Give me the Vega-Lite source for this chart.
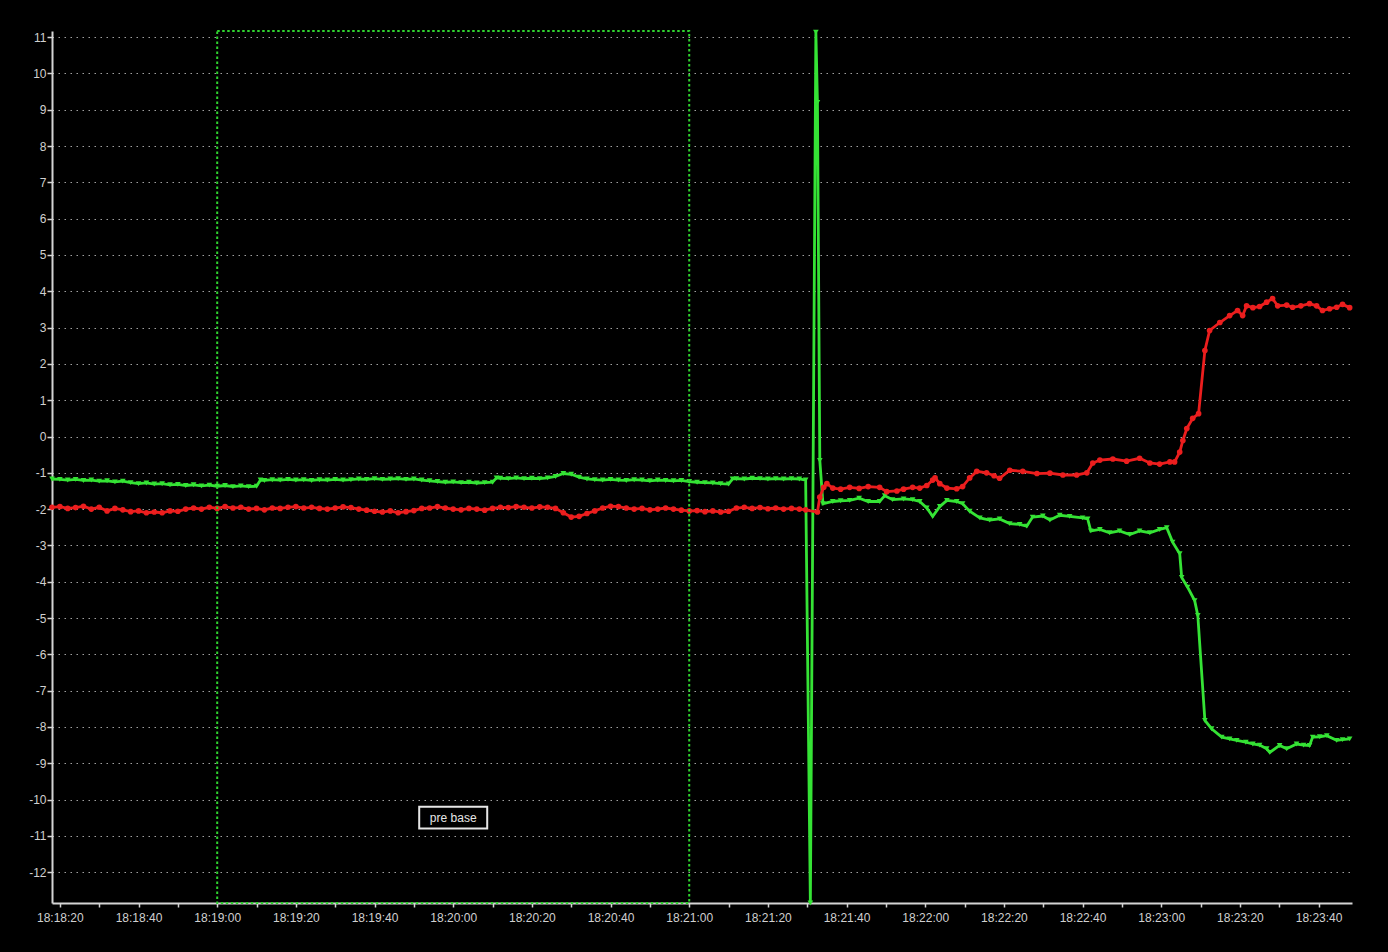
{
  "$schema": "https://vega.github.io/schema/vega-lite/v6.json",
  "width": 1300,
  "height": 872,
  "autosize": {"type": "none"},
  "padding": {"left": 52, "top": 31, "right": 36, "bottom": 49},
  "background": "black",
  "config": {
    "view": {"stroke": null},
    "axis": {
      "domainColor": "#d4d4d4",
      "domainWidth": 2,
      "tickColor": "#d4d4d4",
      "tickWidth": 1.5,
      "labelColor": "#d0d0d0",
      "labelFont": "Liberation Sans",
      "labelFontSize": 12,
      "gridColor": "#a0a0a0",
      "gridDash": [1.5, 4.5],
      "gridWidth": 1.2
    }
  },
  "resolve": {"axis": {"x": "independent", "y": "independent"}},
  "layer": [
    {
      "data": {"values": [
        {"t":"2020-01-01T18:18:18","ch1":-1.17,"ch2":-1.95},
        {"t":"2020-01-01T18:18:20","ch1":-1.18,"ch2":-1.93},
        {"t":"2020-01-01T18:18:22","ch1":-1.2,"ch2":-1.98},
        {"t":"2020-01-01T18:18:24","ch1":-1.18,"ch2":-1.96},
        {"t":"2020-01-01T18:18:26","ch1":-1.21,"ch2":-1.92},
        {"t":"2020-01-01T18:18:28","ch1":-1.2,"ch2":-2.0},
        {"t":"2020-01-01T18:18:30","ch1":-1.23,"ch2":-1.95},
        {"t":"2020-01-01T18:18:32","ch1":-1.22,"ch2":-2.05},
        {"t":"2020-01-01T18:18:34","ch1":-1.25,"ch2":-1.98},
        {"t":"2020-01-01T18:18:36","ch1":-1.23,"ch2":-2.02},
        {"t":"2020-01-01T18:18:38","ch1":-1.27,"ch2":-2.07},
        {"t":"2020-01-01T18:18:40","ch1":-1.3,"ch2":-2.05},
        {"t":"2020-01-01T18:18:42","ch1":-1.28,"ch2":-2.1},
        {"t":"2020-01-01T18:18:44","ch1":-1.31,"ch2":-2.08},
        {"t":"2020-01-01T18:18:46","ch1":-1.3,"ch2":-2.1},
        {"t":"2020-01-01T18:18:48","ch1":-1.33,"ch2":-2.05},
        {"t":"2020-01-01T18:18:50","ch1":-1.32,"ch2":-2.06},
        {"t":"2020-01-01T18:18:52","ch1":-1.35,"ch2":-2.0},
        {"t":"2020-01-01T18:18:54","ch1":-1.33,"ch2":-1.97},
        {"t":"2020-01-01T18:18:56","ch1":-1.36,"ch2":-2.0},
        {"t":"2020-01-01T18:18:58","ch1":-1.34,"ch2":-1.95},
        {"t":"2020-01-01T18:19:00","ch1":-1.37,"ch2":-1.98},
        {"t":"2020-01-01T18:19:02","ch1":-1.35,"ch2":-1.93},
        {"t":"2020-01-01T18:19:04","ch1":-1.38,"ch2":-1.97},
        {"t":"2020-01-01T18:19:06","ch1":-1.36,"ch2":-1.95},
        {"t":"2020-01-01T18:19:08","ch1":-1.38,"ch2":-2.0},
        {"t":"2020-01-01T18:19:10","ch1":-1.37,"ch2":-1.98},
        {"t":"2020-01-01T18:19:11","ch1":-1.2},
        {"t":"2020-01-01T18:19:12","ch1":-1.21,"ch2":-2.02},
        {"t":"2020-01-01T18:19:14","ch1":-1.19,"ch2":-1.97},
        {"t":"2020-01-01T18:19:16","ch1":-1.2,"ch2":-1.98},
        {"t":"2020-01-01T18:19:18","ch1":-1.18,"ch2":-1.95},
        {"t":"2020-01-01T18:19:20","ch1":-1.2,"ch2":-1.93},
        {"t":"2020-01-01T18:19:22","ch1":-1.19,"ch2":-1.97},
        {"t":"2020-01-01T18:19:24","ch1":-1.21,"ch2":-1.95},
        {"t":"2020-01-01T18:19:26","ch1":-1.19,"ch2":-1.98},
        {"t":"2020-01-01T18:19:28","ch1":-1.2,"ch2":-2.0},
        {"t":"2020-01-01T18:19:30","ch1":-1.18,"ch2":-1.97},
        {"t":"2020-01-01T18:19:32","ch1":-1.2,"ch2":-1.94},
        {"t":"2020-01-01T18:19:34","ch1":-1.19,"ch2":-1.96},
        {"t":"2020-01-01T18:19:36","ch1":-1.17,"ch2":-2.0},
        {"t":"2020-01-01T18:19:38","ch1":-1.18,"ch2":-2.03},
        {"t":"2020-01-01T18:19:40","ch1":-1.16,"ch2":-2.06},
        {"t":"2020-01-01T18:19:42","ch1":-1.18,"ch2":-2.08},
        {"t":"2020-01-01T18:19:44","ch1":-1.17,"ch2":-2.05},
        {"t":"2020-01-01T18:19:46","ch1":-1.16,"ch2":-2.1},
        {"t":"2020-01-01T18:19:48","ch1":-1.18,"ch2":-2.07},
        {"t":"2020-01-01T18:19:50","ch1":-1.17,"ch2":-2.04},
        {"t":"2020-01-01T18:19:52","ch1":-1.2,"ch2":-1.98},
        {"t":"2020-01-01T18:19:54","ch1":-1.22,"ch2":-1.97},
        {"t":"2020-01-01T18:19:56","ch1":-1.24,"ch2":-1.93},
        {"t":"2020-01-01T18:19:58","ch1":-1.26,"ch2":-1.97},
        {"t":"2020-01-01T18:20:00","ch1":-1.25,"ch2":-2.0},
        {"t":"2020-01-01T18:20:02","ch1":-1.27,"ch2":-2.02},
        {"t":"2020-01-01T18:20:04","ch1":-1.26,"ch2":-1.98},
        {"t":"2020-01-01T18:20:06","ch1":-1.28,"ch2":-2.0},
        {"t":"2020-01-01T18:20:08","ch1":-1.27,"ch2":-2.03},
        {"t":"2020-01-01T18:20:10","ch1":-1.26,"ch2":-1.98},
        {"t":"2020-01-01T18:20:11","ch1":-1.14},
        {"t":"2020-01-01T18:20:12","ch1":-1.15,"ch2":-1.95},
        {"t":"2020-01-01T18:20:14","ch1":-1.16,"ch2":-1.96},
        {"t":"2020-01-01T18:20:16","ch1":-1.14,"ch2":-1.93},
        {"t":"2020-01-01T18:20:18","ch1":-1.16,"ch2":-1.95},
        {"t":"2020-01-01T18:20:20","ch1":-1.15,"ch2":-1.97},
        {"t":"2020-01-01T18:20:22","ch1":-1.16,"ch2":-1.94},
        {"t":"2020-01-01T18:20:24","ch1":-1.14,"ch2":-1.95},
        {"t":"2020-01-01T18:20:26","ch1":-1.1,"ch2":-1.98},
        {"t":"2020-01-01T18:20:28","ch1":-1.02,"ch2":-2.1},
        {"t":"2020-01-01T18:20:30","ch1":-1.04,"ch2":-2.22},
        {"t":"2020-01-01T18:20:32","ch1":-1.12,"ch2":-2.2},
        {"t":"2020-01-01T18:20:34","ch1":-1.17,"ch2":-2.12},
        {"t":"2020-01-01T18:20:36","ch1":-1.19,"ch2":-2.05},
        {"t":"2020-01-01T18:20:38","ch1":-1.2,"ch2":-1.97},
        {"t":"2020-01-01T18:20:40","ch1":-1.18,"ch2":-1.92},
        {"t":"2020-01-01T18:20:42","ch1":-1.2,"ch2":-1.93},
        {"t":"2020-01-01T18:20:44","ch1":-1.21,"ch2":-1.97},
        {"t":"2020-01-01T18:20:46","ch1":-1.19,"ch2":-2.0},
        {"t":"2020-01-01T18:20:48","ch1":-1.2,"ch2":-1.98},
        {"t":"2020-01-01T18:20:50","ch1":-1.22,"ch2":-2.02},
        {"t":"2020-01-01T18:20:52","ch1":-1.2,"ch2":-2.0},
        {"t":"2020-01-01T18:20:54","ch1":-1.21,"ch2":-1.97},
        {"t":"2020-01-01T18:20:56","ch1":-1.22,"ch2":-2.0},
        {"t":"2020-01-01T18:20:58","ch1":-1.21,"ch2":-2.03},
        {"t":"2020-01-01T18:21:00","ch1":-1.24,"ch2":-2.05},
        {"t":"2020-01-01T18:21:02","ch1":-1.26,"ch2":-2.04},
        {"t":"2020-01-01T18:21:04","ch1":-1.27,"ch2":-2.07},
        {"t":"2020-01-01T18:21:06","ch1":-1.28,"ch2":-2.05},
        {"t":"2020-01-01T18:21:08","ch1":-1.3,"ch2":-2.08},
        {"t":"2020-01-01T18:21:10","ch1":-1.31,"ch2":-2.06},
        {"t":"2020-01-01T18:21:11","ch1":-1.17},
        {"t":"2020-01-01T18:21:12","ch1":-1.16,"ch2":-1.97},
        {"t":"2020-01-01T18:21:14","ch1":-1.17,"ch2":-1.95},
        {"t":"2020-01-01T18:21:16","ch1":-1.15,"ch2":-1.98},
        {"t":"2020-01-01T18:21:18","ch1":-1.16,"ch2":-1.96},
        {"t":"2020-01-01T18:21:20","ch1":-1.17,"ch2":-1.99},
        {"t":"2020-01-01T18:21:22","ch1":-1.16,"ch2":-1.97},
        {"t":"2020-01-01T18:21:24","ch1":-1.17,"ch2":-2.0},
        {"t":"2020-01-01T18:21:26","ch1":-1.16,"ch2":-1.98},
        {"t":"2020-01-01T18:21:28","ch1":-1.17,"ch2":-2.0},
        {"t":"2020-01-01T18:21:29.6","ch1":-1.2,"ch2":-2.02},
        {"t":"2020-01-01T18:21:30.8","ch1":-12.85},
        {"t":"2020-01-01T18:21:32.2","ch1":11.14},
        {"t":"2020-01-01T18:21:32.6","ch1":9.2,"ch2":-2.08},
        {"t":"2020-01-01T18:21:33.2","ch1":-0.66,"ch2":-1.67},
        {"t":"2020-01-01T18:21:34","ch1":-1.85},
        {"t":"2020-01-01T18:21:34.2","ch2":-1.4},
        {"t":"2020-01-01T18:21:35","ch2":-1.3},
        {"t":"2020-01-01T18:21:36.5","ch1":-1.79,"ch2":-1.42},
        {"t":"2020-01-01T18:21:38.5","ch1":-1.77,"ch2":-1.45},
        {"t":"2020-01-01T18:21:40.8","ch1":-1.76,"ch2":-1.4},
        {"t":"2020-01-01T18:21:43.2","ch1":-1.7,"ch2":-1.43},
        {"t":"2020-01-01T18:21:45.5","ch1":-1.79,"ch2":-1.38},
        {"t":"2020-01-01T18:21:48.4","ch1":-1.79,"ch2":-1.4},
        {"t":"2020-01-01T18:21:49.7","ch1":-1.63},
        {"t":"2020-01-01T18:21:50.2","ch2":-1.52},
        {"t":"2020-01-01T18:21:51.7","ch1":-1.74},
        {"t":"2020-01-01T18:21:52.8","ch2":-1.5},
        {"t":"2020-01-01T18:21:54.5","ch1":-1.72,"ch2":-1.45},
        {"t":"2020-01-01T18:21:56.8","ch1":-1.74,"ch2":-1.4},
        {"t":"2020-01-01T18:21:58.6","ch1":-1.79,"ch2":-1.42},
        {"t":"2020-01-01T18:22:00.4","ch1":-1.97,"ch2":-1.35},
        {"t":"2020-01-01T18:22:01.9","ch1":-2.2,"ch2":-1.2},
        {"t":"2020-01-01T18:22:02.5","ch2":-1.14},
        {"t":"2020-01-01T18:22:03.7","ch1":-1.93,"ch2":-1.3},
        {"t":"2020-01-01T18:22:05.5","ch1":-1.76,"ch2":-1.42},
        {"t":"2020-01-01T18:22:08","ch1":-1.79,"ch2":-1.44},
        {"t":"2020-01-01T18:22:09.5","ch1":-1.85,"ch2":-1.38},
        {"t":"2020-01-01T18:22:11.3","ch1":-2.06,"ch2":-1.14},
        {"t":"2020-01-01T18:22:13.1","ch2":-0.96},
        {"t":"2020-01-01T18:22:13.9","ch1":-2.24},
        {"t":"2020-01-01T18:22:15.6","ch2":-1.0},
        {"t":"2020-01-01T18:22:16.4","ch1":-2.3},
        {"t":"2020-01-01T18:22:17.5","ch2":-1.08},
        {"t":"2020-01-01T18:22:18.9","ch1":-2.27,"ch2":-1.15},
        {"t":"2020-01-01T18:22:21.5","ch1":-2.4,"ch2":-0.93},
        {"t":"2020-01-01T18:22:24","ch1":-2.42},
        {"t":"2020-01-01T18:22:24.8","ch2":-0.96},
        {"t":"2020-01-01T18:22:25.8","ch1":-2.47},
        {"t":"2020-01-01T18:22:27.3","ch1":-2.22},
        {"t":"2020-01-01T18:22:28.4","ch2":-1.02},
        {"t":"2020-01-01T18:22:29.9","ch1":-2.19},
        {"t":"2020-01-01T18:22:31.7","ch1":-2.3,"ch2":-1.01},
        {"t":"2020-01-01T18:22:34.2","ch1":-2.17},
        {"t":"2020-01-01T18:22:35","ch2":-1.06},
        {"t":"2020-01-01T18:22:36.7","ch1":-2.2},
        {"t":"2020-01-01T18:22:38.5","ch2":-1.06},
        {"t":"2020-01-01T18:22:40","ch1":-2.24},
        {"t":"2020-01-01T18:22:41.1","ch2":-1.0},
        {"t":"2020-01-01T18:22:41.3","ch1":-2.27},
        {"t":"2020-01-01T18:22:42.1","ch1":-2.6},
        {"t":"2020-01-01T18:22:42.6","ch2":-0.73},
        {"t":"2020-01-01T18:22:44.4","ch1":-2.56,"ch2":-0.65},
        {"t":"2020-01-01T18:22:46.9","ch1":-2.65},
        {"t":"2020-01-01T18:22:47.7","ch2":-0.62},
        {"t":"2020-01-01T18:22:49.4","ch1":-2.6},
        {"t":"2020-01-01T18:22:51.2","ch2":-0.68},
        {"t":"2020-01-01T18:22:52","ch1":-2.7},
        {"t":"2020-01-01T18:22:54.5","ch1":-2.6,"ch2":-0.6},
        {"t":"2020-01-01T18:22:57.1","ch1":-2.65,"ch2":-0.73},
        {"t":"2020-01-01T18:22:59.6","ch1":-2.56,"ch2":-0.76},
        {"t":"2020-01-01T18:23:01.4","ch1":-2.51},
        {"t":"2020-01-01T18:23:02.2","ch2":-0.7},
        {"t":"2020-01-01T18:23:02.9","ch1":-2.91},
        {"t":"2020-01-01T18:23:03.4","ch2":-0.7},
        {"t":"2020-01-01T18:23:04.7","ch1":-3.23,"ch2":-0.43},
        {"t":"2020-01-01T18:23:05.2","ch1":-3.88},
        {"t":"2020-01-01T18:23:05.5","ch2":-0.11},
        {"t":"2020-01-01T18:23:06.5","ch2":0.22},
        {"t":"2020-01-01T18:23:06.7","ch1":-4.15},
        {"t":"2020-01-01T18:23:08","ch2":0.5},
        {"t":"2020-01-01T18:23:08.5","ch1":-4.52},
        {"t":"2020-01-01T18:23:09.3","ch1":-4.93},
        {"t":"2020-01-01T18:23:09.5","ch2":0.63},
        {"t":"2020-01-01T18:23:11.1","ch1":-7.82,"ch2":2.37},
        {"t":"2020-01-01T18:23:12.3","ch2":2.92},
        {"t":"2020-01-01T18:23:12.8","ch1":-8.05},
        {"t":"2020-01-01T18:23:14.9","ch2":3.14},
        {"t":"2020-01-01T18:23:15.4","ch1":-8.28},
        {"t":"2020-01-01T18:23:17.4","ch1":-8.33,"ch2":3.33},
        {"t":"2020-01-01T18:23:19.2","ch1":-8.37},
        {"t":"2020-01-01T18:23:19.4","ch2":3.47},
        {"t":"2020-01-01T18:23:20.7","ch2":3.33},
        {"t":"2020-01-01T18:23:21.5","ch1":-8.42},
        {"t":"2020-01-01T18:23:21.7","ch2":3.6},
        {"t":"2020-01-01T18:23:23.3","ch1":-8.47,"ch2":3.55},
        {"t":"2020-01-01T18:23:25","ch1":-8.5,"ch2":3.58},
        {"t":"2020-01-01T18:23:26.8","ch1":-8.6,"ch2":3.7},
        {"t":"2020-01-01T18:23:27.6","ch1":-8.7},
        {"t":"2020-01-01T18:23:28.3","ch2":3.8},
        {"t":"2020-01-01T18:23:29.6","ch2":3.6},
        {"t":"2020-01-01T18:23:30.1","ch1":-8.51},
        {"t":"2020-01-01T18:23:31.9","ch1":-8.6,"ch2":3.62},
        {"t":"2020-01-01T18:23:33.4","ch2":3.56},
        {"t":"2020-01-01T18:23:34.4","ch1":-8.47},
        {"t":"2020-01-01T18:23:35.5","ch2":3.6},
        {"t":"2020-01-01T18:23:36.2","ch1":-8.5},
        {"t":"2020-01-01T18:23:37.7","ch1":-8.51,"ch2":3.66},
        {"t":"2020-01-01T18:23:38.5","ch1":-8.28},
        {"t":"2020-01-01T18:23:39.5","ch2":3.6},
        {"t":"2020-01-01T18:23:40.3","ch1":-8.27},
        {"t":"2020-01-01T18:23:41","ch2":3.47},
        {"t":"2020-01-01T18:23:42.1","ch1":-8.24},
        {"t":"2020-01-01T18:23:42.8","ch2":3.52},
        {"t":"2020-01-01T18:23:44.6","ch1":-8.37,"ch2":3.56},
        {"t":"2020-01-01T18:23:46.1","ch1":-8.35,"ch2":3.64},
        {"t":"2020-01-01T18:23:47.9","ch1":-8.33,"ch2":3.55}
      ]},
      "transform": [
        {"fold": ["ch1", "ch2"], "as": ["series", "value"]},
        {"filter": "isValid(datum.value)"}
      ],
      "resolve": {"axis": {"x": "independent", "y": "independent"}},
      "layer": [
        {
          "mark": {"type": "line", "strokeWidth": 2.8},
          "encoding": {
            "x": {
              "field": "t", "type": "temporal", "title": null,
              "scale": {"domain": [{"year": 2020, "month": 1, "date": 1, "hours": 18, "minutes": 18, "seconds": 18}, {"year": 2020, "month": 1, "date": 1, "hours": 18, "minutes": 23, "seconds": 48, "milliseconds": 500}]},
              "axis": {
                "grid": false,
                "values": [
                  {"year":2020,"month":1,"date":1,"hours":18,"minutes":18,"seconds":20},
                  {"year":2020,"month":1,"date":1,"hours":18,"minutes":18,"seconds":30},
                  {"year":2020,"month":1,"date":1,"hours":18,"minutes":18,"seconds":40},
                  {"year":2020,"month":1,"date":1,"hours":18,"minutes":18,"seconds":50},
                  {"year":2020,"month":1,"date":1,"hours":18,"minutes":19,"seconds":0},
                  {"year":2020,"month":1,"date":1,"hours":18,"minutes":19,"seconds":10},
                  {"year":2020,"month":1,"date":1,"hours":18,"minutes":19,"seconds":20},
                  {"year":2020,"month":1,"date":1,"hours":18,"minutes":19,"seconds":30},
                  {"year":2020,"month":1,"date":1,"hours":18,"minutes":19,"seconds":40},
                  {"year":2020,"month":1,"date":1,"hours":18,"minutes":19,"seconds":50},
                  {"year":2020,"month":1,"date":1,"hours":18,"minutes":20,"seconds":0},
                  {"year":2020,"month":1,"date":1,"hours":18,"minutes":20,"seconds":10},
                  {"year":2020,"month":1,"date":1,"hours":18,"minutes":20,"seconds":20},
                  {"year":2020,"month":1,"date":1,"hours":18,"minutes":20,"seconds":30},
                  {"year":2020,"month":1,"date":1,"hours":18,"minutes":20,"seconds":40},
                  {"year":2020,"month":1,"date":1,"hours":18,"minutes":20,"seconds":50},
                  {"year":2020,"month":1,"date":1,"hours":18,"minutes":21,"seconds":0},
                  {"year":2020,"month":1,"date":1,"hours":18,"minutes":21,"seconds":10},
                  {"year":2020,"month":1,"date":1,"hours":18,"minutes":21,"seconds":20},
                  {"year":2020,"month":1,"date":1,"hours":18,"minutes":21,"seconds":30},
                  {"year":2020,"month":1,"date":1,"hours":18,"minutes":21,"seconds":40},
                  {"year":2020,"month":1,"date":1,"hours":18,"minutes":21,"seconds":50},
                  {"year":2020,"month":1,"date":1,"hours":18,"minutes":22,"seconds":0},
                  {"year":2020,"month":1,"date":1,"hours":18,"minutes":22,"seconds":10},
                  {"year":2020,"month":1,"date":1,"hours":18,"minutes":22,"seconds":20},
                  {"year":2020,"month":1,"date":1,"hours":18,"minutes":22,"seconds":30},
                  {"year":2020,"month":1,"date":1,"hours":18,"minutes":22,"seconds":40},
                  {"year":2020,"month":1,"date":1,"hours":18,"minutes":22,"seconds":50},
                  {"year":2020,"month":1,"date":1,"hours":18,"minutes":23,"seconds":0},
                  {"year":2020,"month":1,"date":1,"hours":18,"minutes":23,"seconds":10},
                  {"year":2020,"month":1,"date":1,"hours":18,"minutes":23,"seconds":20},
                  {"year":2020,"month":1,"date":1,"hours":18,"minutes":23,"seconds":30},
                  {"year":2020,"month":1,"date":1,"hours":18,"minutes":23,"seconds":40}
                ],
                "labelExpr": "seconds(datum.value) % 20 == 0 ? timeFormat(datum.value, '%H:%M:%S') : ''",
                "labelOverlap": false,
                "tickSize": 4,
                "labelPadding": 5
              }
            },
            "y": {
              "field": "value", "type": "quantitative", "title": null,
              "scale": {"domain": [-12.85, 11.17], "nice": false, "zero": false},
              "axis": {
                "grid": true,
                "values": [-12,-11,-10,-9,-8,-7,-6,-5,-4,-3,-2,-1,0,1,2,3,4,5,6,7,8,9,10,11],
                "labelExpr": "'' + datum.value",
                "labelOverlap": false,
                "tickSize": 5,
                "labelPadding": 1
              }
            },
            "color": {"field": "series", "type": "nominal", "scale": {"domain": ["ch1", "ch2"], "range": ["#35e335", "#ec1e1e"]}, "legend": null}
          }
        },
        {
          "mark": {"type": "point", "filled": true, "size": 32, "opacity": 1},
          "encoding": {
            "x": {"field": "t", "type": "temporal", "axis": null},
            "y": {"field": "value", "type": "quantitative", "axis": null},
            "color": {"field": "series", "type": "nominal", "legend": null},
            "shape": {"field": "series", "type": "nominal", "scale": {"domain": ["ch1", "ch2"], "range": ["triangle-down", "circle"]}, "legend": null}
          }
        }
      ]
    },
    {
      "data": {"values": [{"region": "pre base", "start": "2020-01-01T18:19:00", "end": "2020-01-01T18:21:00", "top": 11.17, "bottom": -12.85}]},
      "mark": {"type": "rect", "filled": false, "color": "#2fd22f", "strokeWidth": 2, "strokeDash": [2.5, 2.5]},
      "encoding": {
        "x": {"field": "start", "type": "temporal", "axis": null},
        "x2": {"field": "end"},
        "y": {"field": "top", "type": "quantitative", "axis": null},
        "y2": {"field": "bottom"}
      }
    },
    {
      "data": {"values": [{"t": "2020-01-01T18:20:00", "v": -10.5, "label": "pre base"}]},
      "encoding": {
        "x": {"field": "t", "type": "temporal", "axis": null},
        "y": {"field": "v", "type": "quantitative", "axis": null}
      },
      "layer": [
        {"mark": {"type": "point", "shape": "M-1,-0.32H1V0.32H-1Z", "size": 4624, "fill": "black", "stroke": "#e6e6e6", "strokeWidth": 2, "opacity": 1, "fillOpacity": 1}},
        {"mark": {"type": "text", "font": "Liberation Sans", "fontSize": 12, "color": "#e6e6e6", "baseline": "middle", "align": "center"}, "encoding": {"text": {"field": "label"}}}
      ]
    }
  ]
}
